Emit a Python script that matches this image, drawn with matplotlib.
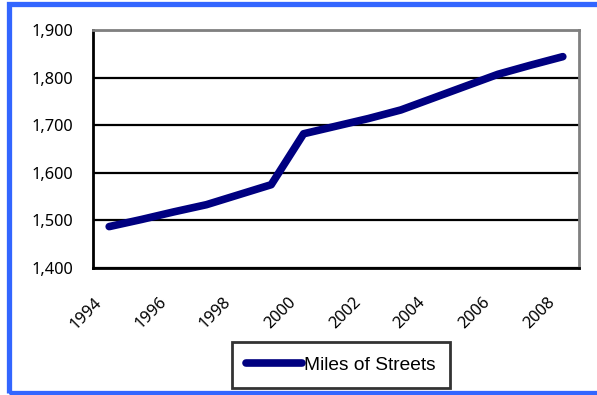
import matplotlib
matplotlib.use("Agg")
import matplotlib.pyplot as plt
from matplotlib.patches import Rectangle
from matplotlib.lines import Line2D
from matplotlib.transforms import ScaledTranslation

years = list(range(1994, 2009))
miles = [1487, 1502, 1518, 1533, 1554, 1575, 1682, 1698, 1714, 1732, 1757, 1782, 1807, 1826, 1844]
yticks = [1400, 1500, 1600, 1700, 1800, 1900]
ytick_labels = ["1,400", "1,500", "1,600", "1,700", "1,800", "1,900"]
xtick_labels = [str(y) for y in years[::2]]
series_name = "Miles of Streets"

W, H = 597, 395
fig = plt.figure(figsize=(W / 100, H / 100), dpi=100)
fig.patch.set_facecolor("white")

# blue outer border
border = "#3366FF"
fig.add_artist(Rectangle((8.5 / W, 1 - 393 / H), 1.2, (393 - 4) / H, transform=fig.transFigure,
                         fill=False, edgecolor=border, linewidth=3.8, clip_on=False))

L, R, T, B = 93, 579, 30, 268
ax = fig.add_axes([L / W, 1 - B / H, (R - L) / W, (B - T) / H])

x = list(range(len(years)))
ax.plot(x, miles, color="#000080", linewidth=5.5, solid_capstyle="round", solid_joinstyle="round",
        zorder=3)
ax.set_xlim(-0.5, len(years) - 0.5)
ax.set_ylim(1400, 1900)
ax.set_yticks(yticks)
ax.set_yticklabels(ytick_labels)
ax.yaxis.grid(True, color="black", linewidth=1.6)
ax.set_axisbelow(True)

ax.set_xticks(x[::2])
ax.set_xticklabels(xtick_labels, rotation=45, ha="right", va="center", rotation_mode="anchor")
ax.tick_params(axis="both", length=0)
ax.tick_params(axis="x", pad=23)
ax.tick_params(axis="y", pad=14)
tfont = ["Noto Sans", "DejaVu Sans"]
shift = ScaledTranslation(-10 / 100, 0, fig.dpi_scale_trans)
for lab in ax.get_xticklabels():
    lab.set_transform(lab.get_transform() + shift)
for lab in ax.get_xticklabels() + ax.get_yticklabels():
    lab.set_fontfamily(tfont)
    lab.set_fontsize(11.8)

ax.spines["left"].set_color("black")
ax.spines["bottom"].set_color("black")
ax.spines["left"].set_linewidth(2)
ax.spines["bottom"].set_linewidth(2)
ax.spines["top"].set_color("#808080")
ax.spines["right"].set_color("#808080")
ax.spines["top"].set_linewidth(2)
ax.spines["right"].set_linewidth(2)

handle = Line2D([], [], color="#000080", linewidth=5.5, solid_capstyle="round")
leg = fig.legend([handle], [series_name], loc="center",
                 bbox_to_anchor=(341 / W, 1 - 365 / H), frameon=True, fancybox=False,
                 handlelength=2.9, handletextpad=0.15, borderpad=0.75,
                 prop={"family": "Liberation Sans", "size": 13.8})
leg.get_frame().set_edgecolor("black")
leg.get_frame().set_linewidth(2)

fig.savefig("out.png", dpi=100, facecolor="white")
